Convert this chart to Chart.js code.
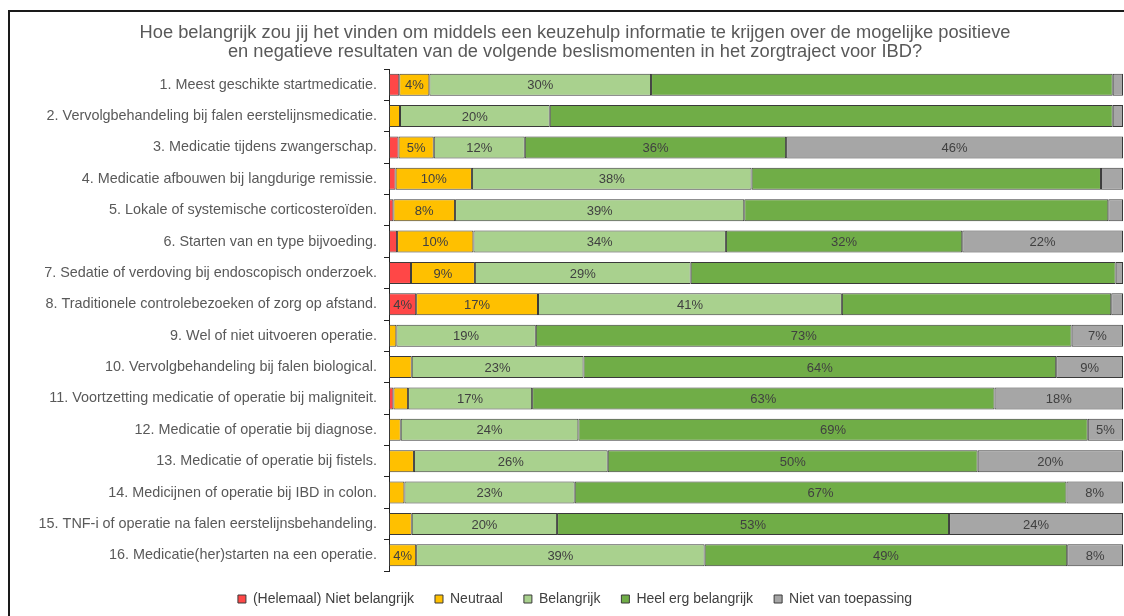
<!DOCTYPE html>
<html>
<head>
<meta charset="utf-8">
<script src="https://cdn.jsdelivr.net/npm/chart.js@4/dist/chart.umd.min.js"></script>
<style>
html,body{margin:0;padding:0;background:#fff;overflow:hidden;}
#kader{position:absolute;left:8px;top:10px;width:1200px;height:700px;border-top:2px solid #1a1a1a;border-left:2px solid #1a1a1a;}
#wrap{position:absolute;left:0;top:0;width:1124px;height:616px;}
</style>
</head>
<body>
<div id="kader"></div>
<div id="wrap"><canvas id="keuzehulp"></canvas></div>
<script>

const vragen=[
"1. Meest geschikte startmedicatie.",
"2. Vervolgbehandeling bij falen eerstelijnsmedicatie.",
"3. Medicatie tijdens zwangerschap.",
"4. Medicatie afbouwen bij langdurige remissie.",
"5. Lokale of systemische corticosteroïden.",
"6. Starten van en type bijvoeding.",
"7. Sedatie of verdoving bij endoscopisch onderzoek.",
"8. Traditionele controlebezoeken of zorg op afstand.",
"9. Wel of niet uitvoeren operatie.",
"10. Vervolgbehandeling bij falen biological.",
"11. Voortzetting medicatie of operatie bij maligniteit.",
"12. Medicatie of operatie bij diagnose.",
"13. Medicatie of operatie bij fistels.",
"14. Medicijnen of operatie bij IBD in colon.",
"15. TNF-i of operatie na falen eerstelijnsbehandeling.",
"16. Medicatie(her)starten na een operatie."
];

// percentages per vraag
const nietBelangrijk=[1.4,0,1.3,0.9,0.6,1.1,3.0,3.7,0,0,0.6,0,0,0,0,0];
const neutraal=[4.1,1.5,4.8,10.4,8.4,10.4,8.7,16.6,1.0,3.1,2.0,1.6,3.4,2.1,3.1,3.7];
const belangrijk=[30.2,20.4,12.4,38.1,39.4,34.4,29.4,41.4,19.0,23.4,16.9,24.2,26.4,23.2,19.8,39.3];
const heelErg=[62.9,76.7,35.6,47.6,49.6,32.2,57.9,36.7,73.0,64.4,63.0,69.4,50.4,67.0,53.4,49.4];
const nvt=[1.4,1.4,45.9,3.0,2.0,21.9,1.0,1.6,7.0,9.1,17.5,4.8,19.8,7.7,23.7,7.6];

// rijen waar het label van "Heel erg belangrijk" is weggelaten
const heelErgZonderLabel=[0,1,3,4,6,7];

const tekstFont="'Liberation Sans', Arial, sans-serif";
Chart.defaults.font.family=tekstFont;

// percentage-labels midden in de balken
const balkLabels={
id:"balkLabels",
afterDatasetsDraw(chart){
const ctx=chart.ctx;
ctx.save();
ctx.font="13px "+tekstFont;
ctx.fillStyle="#404040";
ctx.textAlign="center";
ctx.textBaseline="middle";
chart.data.datasets.forEach((ds,di)=>{
chart.getDatasetMeta(di).data.forEach((bar,i)=>{
const v=ds.data[i];
if(v<3.5)return;
if(di===3&&heelErgZonderLabel.includes(i))return;
const p=bar.getProps(["x","y","base"],true);
ctx.fillText(Math.round(v)+"%",(p.x+p.base)/2,p.y+1);
});
});
ctx.restore();
}
};

const reeks=(label,data,kleur)=>({
label:label,
data:data,
backgroundColor:kleur,
borderColor:"#3a3a3a",
borderWidth:1,
borderSkipped:false,
barPercentage:1,
categoryPercentage:0.7
});

new Chart(document.getElementById("keuzehulp"),{
type:"bar",
data:{
labels:vragen,
datasets:[
reeks("(Helemaal) Niet belangrijk",nietBelangrijk,"#FF4747"),
reeks("Neutraal",neutraal,"#FFC000"),
reeks("Belangrijk",belangrijk,"#A9D18E"),
reeks("Heel erg belangrijk",heelErg,"#70AD47"),
reeks("Niet van toepassing",nvt,"#A6A6A6")
]
},
options:{
indexAxis:"y",
responsive:true,
maintainAspectRatio:false,
animation:false,
events:[],
layout:{padding:{top:12,left:27,right:1,bottom:0}},
scales:{
x:{stacked:true,min:0,max:100,display:false},
y:{
stacked:true,
afterFit(s){s.width=362;},
grid:{drawOnChartArea:false,tickLength:5,color:"#222"},
border:{color:"#222",width:1},
ticks:{color:"#595959",padding:7,font:{size:14.4}}
}
},
plugins:{
title:{
display:true,
text:["Hoe belangrijk zou jij het vinden om middels een keuzehulp informatie te krijgen over de mogelijke positieve","en negatieve resultaten van de volgende beslismomenten in het zorgtraject voor IBD?"],
color:"#595959",
font:{size:18.3,weight:"normal",lineHeight:1.066},
padding:{top:11,bottom:7}
},
legend:{
position:"bottom",
labels:{boxWidth:8,boxHeight:8,padding:21,color:"#404040",font:{size:14}}
},
tooltip:{enabled:false}
}
},
plugins:[balkLabels]
});
</script>
</body>
</html>
